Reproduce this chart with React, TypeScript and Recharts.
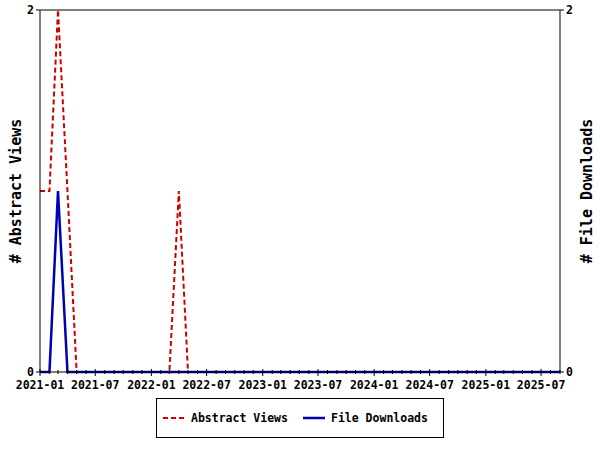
import React from "react";
import { LineChart, Line, XAxis, YAxis, Legend, ReferenceLine } from "recharts";

const months = [
  "2021-01", "2021-02", "2021-03", "2021-04", "2021-05", "2021-06", "2021-07", "2021-08", "2021-09", "2021-10", "2021-11", "2021-12",
  "2022-01", "2022-02", "2022-03", "2022-04", "2022-05", "2022-06", "2022-07", "2022-08", "2022-09", "2022-10", "2022-11", "2022-12",
  "2023-01", "2023-02", "2023-03", "2023-04", "2023-05", "2023-06", "2023-07", "2023-08", "2023-09", "2023-10", "2023-11", "2023-12",
  "2024-01", "2024-02", "2024-03", "2024-04", "2024-05", "2024-06", "2024-07", "2024-08", "2024-09", "2024-10", "2024-11", "2024-12",
  "2025-01", "2025-02", "2025-03", "2025-04", "2025-05", "2025-06", "2025-07", "2025-08", "2025-09",
];

const abstractViews = [
  1, 1, 2, 1, 0, 0, 0, 0, 0, 0, 0, 0,
  0, 0, 0, 1, 0, 0, 0, 0, 0, 0, 0, 0,
  0, 0, 0, 0, 0, 0, 0, 0, 0, 0, 0, 0,
  0, 0, 0, 0, 0, 0, 0, 0, 0, 0, 0, 0,
  0, 0, 0, 0, 0, 0, 0, 0, 0,
];

const fileDownloads = [
  0, 0, 1, 0, 0, 0, 0, 0, 0, 0, 0, 0,
  0, 0, 0, 0, 0, 0, 0, 0, 0, 0, 0, 0,
  0, 0, 0, 0, 0, 0, 0, 0, 0, 0, 0, 0,
  0, 0, 0, 0, 0, 0, 0, 0, 0, 0, 0, 0,
  0, 0, 0, 0, 0, 0, 0, 0, 0,
];

const majorTickLabels = [
  "2021-01", "2021-07", "2022-01", "2022-07", "2023-01", "2023-07",
  "2024-01", "2024-07", "2025-01", "2025-07",
];

const yTicks = [0, 2];

const RED = "#cc0000";
const BLUE = "#0000b4";
const FONT = "'DejaVu Sans Mono', monospace";

const toTs = (m: string) => Date.UTC(+m.slice(0, 4), +m.slice(5, 7) - 1, 1);
const toLabel = (t: number) => {
  const d = new Date(t);
  return `${d.getUTCFullYear()}-${String(d.getUTCMonth() + 1).padStart(2, "0")}`;
};

const data = months.map((m, i) => ({
  t: toTs(m),
  views: abstractViews[i],
  downloads: fileDownloads[i],
}));

const monthTicks = months.map(toTs);

const XTick = (props: any) => {
  const { x, y, payload } = props;
  const label = toLabel(payload.value);
  const major = majorTickLabels.includes(label);
  return (
    <g>
      <line x1={x} x2={x} y1={y - (major ? 3 : 2)} y2={y + (major ? 4 : 2)} stroke="#000" strokeWidth={1} />
      {major && (
        <text x={x} y={y + 17} textAnchor="middle" fontFamily={FONT} fontWeight="bold" fontSize={11.5} fill="#000">
          {label}
        </text>
      )}
    </g>
  );
};

const LeftTitle = (props: any) => {
  const vb = props.viewBox || {};
  const cx = 16;
  const cy = vb.y + vb.height / 2;
  return (
    <text x={cx} y={cy} transform={`rotate(-90 ${cx} ${cy})`} textAnchor="middle" dominantBaseline="central" fontFamily={FONT} fontWeight="bold" fontSize={15} fill="#000">
      # Abstract Views
    </text>
  );
};

const RightTitle = (props: any) => {
  const vb = props.viewBox || {};
  const cx = 587;
  const cy = vb.y + vb.height / 2;
  return (
    <text x={cx} y={cy} transform={`rotate(-90 ${cx} ${cy})`} textAnchor="middle" dominantBaseline="central" fontFamily={FONT} fontWeight="bold" fontSize={15} fill="#000">
      # File Downloads
    </text>
  );
};

const LegendContent = () => (
  <div
    style={{
      boxSizing: "border-box",
      width: 288,
      height: 40,
      border: "1px solid #000",
      background: "#fff",
      position: "relative",
      fontFamily: FONT,
      fontWeight: "bold",
      fontSize: 11.5,
      color: "#000",
    }}
  >
    <svg width={286} height={38} style={{ position: "absolute", left: 0, top: 0 }}>
      <line x1={6} x2={27} y1={19} y2={19} stroke={RED} strokeWidth={2} strokeDasharray="5 3" />
      <text x={34} y={19} dominantBaseline="central" fontFamily={FONT} fontWeight="bold" fontSize={11.5} fill="#000">
        Abstract Views
      </text>
      <line x1={146} x2={168} y1={19} y2={19} stroke={BLUE} strokeWidth={2.5} />
      <text x={174} y={19} dominantBaseline="central" fontFamily={FONT} fontWeight="bold" fontSize={11.5} fill="#000">
        File Downloads
      </text>
    </svg>
  </div>
);

export default function App() {
  return (
    <div style={{ position: "absolute", left: 0, top: 0, background: "#fff" }}>
      <LineChart width={600} height={450} data={data} margin={{ top: 10, right: 0, bottom: 12, left: 0 }}>
        <XAxis
          dataKey="t"
          type="number"
          domain={[monthTicks[0], monthTicks[monthTicks.length - 1]]}
          ticks={monthTicks}
          interval={0}
          height={26}
          tickSize={0}
          tickMargin={0}
          tickLine={false}
          axisLine={{ stroke: "#000" }}
          tick={<XTick />}
          allowDataOverflow
        />
        <YAxis
          yAxisId="left"
          domain={[0, 2]}
          ticks={yTicks}
          width={40}
          tickSize={4}
          tickMargin={2}
          axisLine={{ stroke: "#000" }}
          tickLine={{ stroke: "#000" }}
          tick={{ fill: "#000", fontFamily: FONT, fontWeight: "bold", fontSize: 11.5 }}
          label={<LeftTitle />}
        />
        <YAxis
          yAxisId="right"
          orientation="right"
          domain={[0, 2]}
          ticks={yTicks}
          width={40}
          tickSize={4}
          tickMargin={2}
          axisLine={{ stroke: "#000" }}
          tickLine={{ stroke: "#000" }}
          tick={{ fill: "#000", fontFamily: FONT, fontWeight: "bold", fontSize: 11.5 }}
          label={<RightTitle />}
        />
        <ReferenceLine yAxisId="left" y={2} stroke="#000" strokeWidth={1} />
        <Legend verticalAlign="bottom" content={<LegendContent />} wrapperStyle={{ left: 156, width: 288, bottom: 12 }} />
        <Line
          yAxisId="left"
          type="linear"
          dataKey="views"
          stroke={RED}
          strokeWidth={2}
          strokeDasharray="5 3"
          dot={false}
          activeDot={false}
          isAnimationActive={false}
        />
        <Line
          yAxisId="right"
          type="linear"
          dataKey="downloads"
          stroke={BLUE}
          strokeWidth={2.5}
          dot={false}
          activeDot={false}
          isAnimationActive={false}
        />
      </LineChart>
    </div>
  );
}
